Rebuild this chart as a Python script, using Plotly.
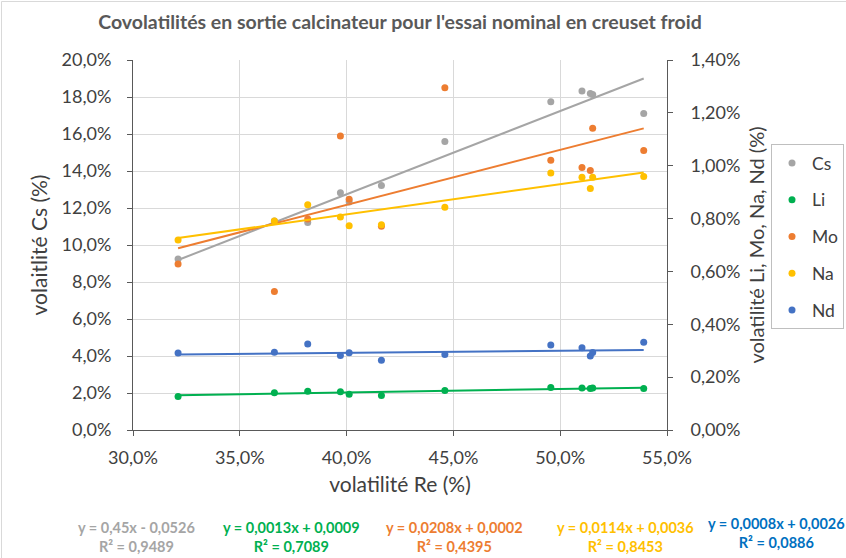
import plotly.graph_objects as go

# Re volatility (x) and co-volatilities of each element
x_re = [0.3211, 0.3662, 0.3818, 0.3971, 0.4012, 0.4163, 0.4460, 0.4956, 0.5102, 0.5141, 0.5152, 0.5391]
cs = [0.0924, 0.1130, 0.1122, 0.1282, 0.1233, 0.1322, 0.1559, 0.1774, 0.1833, 0.1819, 0.1814, 0.1711]
li = [0.00127, 0.00141, 0.00147, 0.00145, 0.00135, 0.00131, 0.00149, 0.00161, 0.00159, 0.00157, 0.00159, 0.00157]
mo = [0.00628, 0.00524, 0.00798, 0.01112, 0.00873, 0.00771, 0.01295, 0.01021, 0.00993, 0.00982, 0.01142, 0.01058]
na = [0.00719, 0.00791, 0.00852, 0.00806, 0.00773, 0.00777, 0.00843, 0.00972, 0.00956, 0.00914, 0.00956, 0.00959]
nd = [0.00291, 0.00294, 0.00325, 0.00282, 0.00292, 0.00264, 0.00286, 0.00322, 0.00311, 0.00280, 0.00293, 0.00332]

names = ["Cs", "Li", "Mo", "Na", "Nd"]
series = [cs, li, mo, na, nd]
axes = ["y", "y2", "y2", "y2", "y2"]
colors = ["#A5A5A5", "#00B050", "#ED7D31", "#FFC000", "#4472C4"]
eq_colors = ["#A5A5A5", "#00B050", "#ED7D31", "#FFC000", "#0070C0"]

# Linear trendlines y = a*x + b with their R²
trend_slope = [0.45, 0.0013, 0.0208, 0.0114, 0.0008]
trend_icpt = [-0.0526, 0.0009, 0.0002, 0.0036, 0.0026]
trend_r2 = [0.9489, 0.7089, 0.4395, 0.8453, 0.0886]

FONT = "Lato"
W, H = 846, 558
ML, MR, MT, MB = 133, 179, 60, 128
PW, PH = W - ML - MR, H - MT - MB


def px_x(px):
    return (px - ML) / PW


def px_y(py):
    return (H - MB - py) / PH


def fr(v):
    return str(v).replace(".", ",")


fig = go.Figure()

x_lo, x_hi = min(x_re), max(x_re)
for name, ys, ax, col, a, b in zip(names, series, axes, colors, trend_slope, trend_icpt):
    fig.add_trace(go.Scatter(
        x=[x_lo, x_hi], y=[a * x_lo + b, a * x_hi + b], yaxis=ax,
        mode="lines", line=dict(color=col, width=2),
        showlegend=False, hoverinfo="skip", legendgroup=name,
    ))
    fig.add_trace(go.Scatter(
        x=x_re, y=ys, yaxis=ax, name=name, mode="markers",
        marker=dict(color=col, size=7), legendgroup=name,
    ))

# trendline equations under the chart
eq_cx = [136, 291, 454, 625, 776]
eq_cy = [537, 537, 537, 537, 533]
for a, b, r2, col, cx, cy in zip(trend_slope, trend_icpt, trend_r2, eq_colors, eq_cx, eq_cy):
    sign = "-" if b < 0 else "+"
    txt = f"y = {fr(a)}x {sign} {fr(abs(b))}<br>R² = {fr(r2)}"
    fig.add_annotation(
        text=txt, xref="paper", yref="paper", x=px_x(cx), y=px_y(cy),
        xanchor="center", yanchor="middle", showarrow=False, align="center",
        font=dict(family=FONT, size=14.5, color=col, weight="bold"),
    )

# chart-area border (left and top edges)
border = "#D9D9D9"
fig.add_shape(type="line", xref="paper", yref="paper",
              x0=px_x(1.5), x1=px_x(1.5), y0=px_y(1.5), y1=px_y(H + 5),
              line=dict(color=border, width=1))
fig.add_shape(type="line", xref="paper", yref="paper",
              x0=px_x(1.5), x1=px_x(W + 5), y0=px_y(1.5), y1=px_y(1.5),
              line=dict(color=border, width=1))

axis_common = dict(
    showline=True, linecolor="#595959", linewidth=1,
    ticks="outside", ticklen=5, tickcolor="#595959",
    tickfont=dict(family=FONT, size=18, color="#404040"),
    zeroline=False,
)

fig.update_layout(
    width=W, height=H,
    margin=dict(l=ML, r=MR, t=MT, b=MB, autoexpand=False),
    paper_bgcolor="white", plot_bgcolor="white",
    separators=", ",
    font=dict(family=FONT, color="#404040"),
    title=dict(
        text="Covolatilités en sortie calcinateur pour l'essai nominal en creuset froid",
        x=px_x(400), xref="paper", xanchor="center",
        y=1 - 22 / H, yref="container", yanchor="middle",
        font=dict(family=FONT, size=19.5, color="#595959", weight="bold"),
    ),
    xaxis=dict(
        range=[0.30, 0.55], dtick=0.05, tick0=0.30, tickformat=".1%",
        showgrid=True, gridcolor="#D9D9D9", ticklabelstandoff=6,
        title=dict(text="volatilité Re (%)", font=dict(family=FONT, size=21, color="#404040"), standoff=10),
        **axis_common,
    ),
    yaxis=dict(
        range=[0, 0.20], dtick=0.02, tickformat=".1%",
        showgrid=True, gridcolor="#D9D9D9", ticklabelstandoff=12,
        title=dict(text="volaitlité Cs (%)", font=dict(family=FONT, size=21, color="#404040"), standoff=8),
        **axis_common,
    ),
    yaxis2=dict(
        range=[0, 0.014], dtick=0.002, tickformat=".2%",
        overlaying="y", side="right", showgrid=False, ticklabelstandoff=14,
        title=dict(text="volatilité Li, Mo, Na, Nd (%)", font=dict(family=FONT, size=20, color="#404040"), standoff=10),
        **axis_common,
    ),
    legend=dict(
        x=px_x(771), y=px_y(144), xanchor="left", yanchor="top",
        xref="paper", yref="paper",
        bordercolor="#BFBFBF", borderwidth=1, bgcolor="white",
        font=dict(family=FONT, size=17.5, color="#404040"),
        traceorder="grouped", tracegroupgap=11, itemwidth=30,
    ),
    showlegend=True,
)

fig.write_html("out.html")
